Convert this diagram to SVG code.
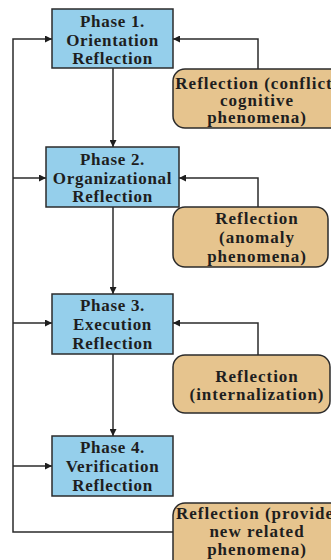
<svg xmlns="http://www.w3.org/2000/svg" width="331" height="560" viewBox="0 0 331 560">
  <style>
    .phase rect { fill: #95CFEB; stroke: #2b2b2b; stroke-width: 1.5; }
    .note rect { fill: #E6C48E; stroke: #2b2b2b; stroke-width: 1.5; }
    text { font-family: "Liberation Serif", "Times New Roman", serif; font-weight: bold; font-size: 17px; fill: #1e1e1e; text-anchor: middle; letter-spacing: 0.7px; }
    .note text { letter-spacing: 1px; }
    .conn path { fill: none; stroke: #2b2b2b; stroke-width: 1.5; }
  </style>
  <defs>
    <marker id="arrow" viewBox="0 0 10 10" refX="10" refY="5" markerWidth="7" markerHeight="7" markerUnits="userSpaceOnUse" orient="auto">
      <path d="M0,0 L10,5 L0,10 z" fill="#1e1e1e"/>
    </marker>
  </defs>
  <rect width="331" height="560" fill="#ffffff"/>

  <g class="conn">
    <!-- main flow down the phases -->
    <path d="M113,68 V147" marker-end="url(#arrow)"/>
    <path d="M113,207 V294" marker-end="url(#arrow)"/>
    <path d="M113,354 V436" marker-end="url(#arrow)"/>
    <!-- feedback loop on the left -->
    <path d="M173,532 H13 V39 H52" marker-end="url(#arrow)"/>
    <path d="M13,178 H46" marker-end="url(#arrow)"/>
    <path d="M13,323 H52" marker-end="url(#arrow)"/>
    <path d="M13,466 H52" marker-end="url(#arrow)"/>
    <!-- reflections back into each phase -->
    <path d="M258,69 V39 H173" marker-end="url(#arrow)"/>
    <path d="M258,207 V178 H179" marker-end="url(#arrow)"/>
    <path d="M258,355 V323 H173" marker-end="url(#arrow)"/>
  </g>

  <g id="phase1" class="phase">
    <rect x="52" y="9" width="121" height="59"/>
    <text x="112.5" y="27">Phase 1.</text>
    <text x="112.5" y="46">Orientation</text>
    <text x="112.5" y="64">Reflection</text>
  </g>
  <g id="phase2" class="phase">
    <rect x="46" y="147" width="133" height="60"/>
    <text x="112.5" y="165">Phase 2.</text>
    <text x="112.5" y="184">Organizational</text>
    <text x="112.5" y="202">Reflection</text>
  </g>
  <g id="phase3" class="phase">
    <rect x="52" y="294" width="121" height="60"/>
    <text x="112.5" y="311">Phase 3.</text>
    <text x="112.5" y="330">Execution</text>
    <text x="112.5" y="349">Reflection</text>
  </g>
  <g id="phase4" class="phase">
    <rect x="52" y="436" width="121" height="60"/>
    <text x="112.5" y="453">Phase 4.</text>
    <text x="112.5" y="472">Verification</text>
    <text x="112.5" y="491">Reflection</text>
  </g>

  <g id="reflection1" class="note">
    <rect x="173" y="69" width="175" height="59" rx="12"/>
    <text x="254" y="89">Reflection (conflict</text>
    <text x="257" y="106">cognitive</text>
    <text x="257" y="123">phenomena)</text>
  </g>
  <g id="reflection2" class="note">
    <rect x="173" y="207" width="155" height="60" rx="12"/>
    <text x="257" y="224">Reflection</text>
    <text x="257" y="243">(anomaly</text>
    <text x="257" y="262">phenomena)</text>
  </g>
  <g id="reflection3" class="note">
    <rect x="173" y="355" width="157" height="58" rx="12"/>
    <text x="257" y="382">Reflection</text>
    <text x="257" y="400">(internalization)</text>
  </g>
  <g id="reflection4" class="note">
    <rect x="173" y="503" width="175" height="70" rx="12"/>
    <text x="255" y="519">Reflection (provide</text>
    <text x="257" y="537">new related</text>
    <text x="257" y="555">phenomena)</text>
  </g>
</svg>
